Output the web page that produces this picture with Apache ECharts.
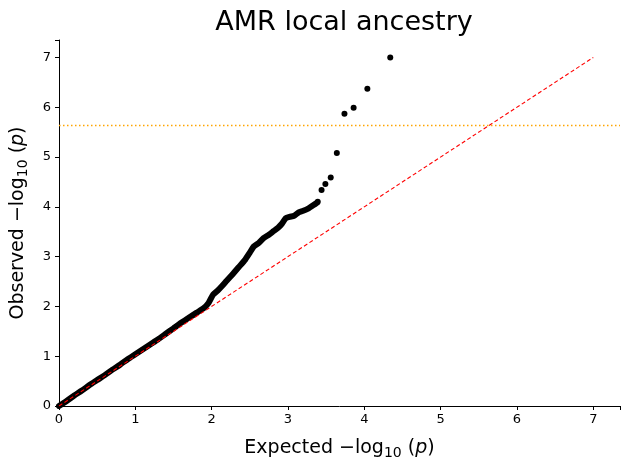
<!DOCTYPE html>
<html lang="en">
<head>
	<meta charset="UTF-8">
	<title>AMR local ancestry</title>
	<style type="text/css">
	body,html{
		width: 100%;
		height: 100%;
		margin: 0;
		padding: 0;
		background: #fff;
	}
	#container{
		width: 630px;
		height: 470px;
	}
	</style>
</head>
<body>
	<div id="container"></div>
<script type="text/javascript" src="https://cdn.jsdelivr.net/npm/echarts@6/dist/echarts.min.js"></script>
<script type="text/javascript">
	// expected / observed -log10(p), dense part of the qq curve
	var denseExpected = [0, 0.1, 0.2, 0.3, 0.4, 0.5, 0.6, 0.7, 0.8, 0.9, 1.0, 1.1, 1.2, 1.3, 1.4, 1.5, 1.6, 1.7, 1.8, 1.9,
		1.96, 2.02, 2.08, 2.13, 2.2, 2.26, 2.35, 2.44, 2.5, 2.55, 2.62, 2.68, 2.75, 2.81, 2.87, 2.92, 2.97, 3.02, 3.08,
		3.14, 3.2, 3.27, 3.33, 3.38];
	var denseObserved = [0, 0.1, 0.21, 0.31, 0.42, 0.52, 0.62, 0.73, 0.83, 0.94, 1.04, 1.14, 1.24, 1.34, 1.45, 1.56, 1.67, 1.77, 1.87, 1.97,
		2.07, 2.24, 2.32, 2.40, 2.52, 2.62, 2.78, 2.94, 3.08, 3.2, 3.28, 3.37, 3.44, 3.51, 3.58, 3.66, 3.77, 3.80, 3.82,
		3.89, 3.92, 3.97, 4.03, 4.08];
	// the top hits, drawn one by one
	var topExpected = [4.34, 4.04, 3.86, 3.74, 3.64, 3.56, 3.49, 3.44, 3.39];
	var topObserved = [7.0, 6.37, 5.99, 5.87, 5.08, 4.59, 4.46, 4.34, 4.10];
	var diagonal = [[0, 0], [7, 7]];
	var threshold = 5.63;
	var xTicks = [0, 1, 2, 3, 4, 5, 6, 7];

	var font = 'DejaVu Sans';
	var zip = function (xs, ys) {
		return xs.map(function (x, i) { return [x, ys[i]]; });
	};
	var axisName = function (word) {
		return '{a|' + word + ' \u2212log}{s|10}{a| (}{i|p}{a|)}';
	};
	var nameRich = {
		a: { fontFamily: font, fontSize: 19, color: '#000' },
		s: { fontFamily: font, fontSize: 14, color: '#000', padding: [10, 0, 0, 0] },
		i: { fontFamily: font, fontSize: 19, color: '#000', fontStyle: 'italic' }
	};
	var axisCommon = {
		type: 'value',
		min: 0,
		max: 7.35,
		interval: 1,
		splitLine: { show: false },
		axisLine: { show: true, onZero: false, lineStyle: { color: '#000', width: 1 } },
		axisTick: { show: true, length: 4, lineStyle: { color: '#000' } },
		axisLabel: {
			fontFamily: font, fontSize: 13, color: '#000',
			formatter: function (v) { return xTicks.indexOf(v) >= 0 ? String(v) : ''; }
		},
		nameLocation: 'middle',
		nameTextStyle: { rich: nameRich }
	};

	var option = {
		backgroundColor: '#fff',
		animation: false,
		title: {
			text: 'AMR local ancestry',
			left: 339,
			textAlign: 'center',
			top: 4,
			textStyle: { fontFamily: font, fontSize: 27, fontWeight: 'normal', color: '#000' }
		},
		grid: { left: 59, right: 10, top: 40, bottom: 64 },
		xAxis: Object.assign({}, axisCommon, {
			name: axisName('Expected'),
			nameGap: 30,
			axisLabel: Object.assign({}, axisCommon.axisLabel, { margin: 7 })
		}),
		yAxis: Object.assign({}, axisCommon, {
			name: axisName('Observed'),
			nameGap: 29,
			axisLabel: Object.assign({}, axisCommon.axisLabel, { margin: 8 })
		}),
		series: [{
			type: 'line',
			data: zip(denseExpected, denseObserved),
			showSymbol: false,
			smooth: 0.2,
			lineStyle: { color: '#000', width: 6, cap: 'round', join: 'round' },
			z: 2
		}, {
			type: 'scatter',
			data: zip(topExpected, topObserved),
			symbolSize: 6,
			itemStyle: { color: '#000', opacity: 1 },
			z: 2
		}, {
			type: 'line',
			data: [],
			markLine: {
				silent: true,
				symbol: 'none',
				label: { show: false },
				lineStyle: { color: '#ffa500', type: [1.5, 2.5], width: 1.3, opacity: 1 },
				emphasis: { disabled: true },
				data: [{ yAxis: threshold }]
			}
		}, {
			type: 'line',
			data: diagonal,
			showSymbol: false,
			lineStyle: { color: '#ff0000', width: 1.1, type: [4, 2.5] },
			z: 3
		}]
	};
	var container = echarts.init(document.getElementById('container'), null, { renderer: 'canvas' });
	container.setOption(option, true);
</script>
</body>
</html>
